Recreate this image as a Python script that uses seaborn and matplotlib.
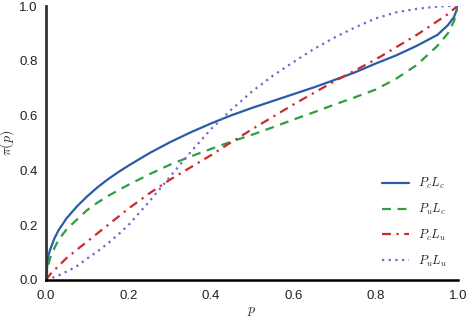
import numpy as np
import pandas as pd
import matplotlib
matplotlib.use("Agg")
import matplotlib.pyplot as plt
import seaborn as sns

# probability grid the curves were read at
p = [0, 0.005, 0.01, 0.02, 0.03, 0.05, 0.075, 0.1, 0.125, 0.15, 0.175, 0.2,
     0.25, 0.3, 0.35, 0.4, 0.45, 0.5, 0.55, 0.6, 0.65, 0.7, 0.75, 0.8,
     0.85, 0.9, 0.95, 0.975, 0.99, 1.0]

# pi(p) for each combination
pc_lc = [0, 0.085, 0.11, 0.15, 0.18, 0.225, 0.268, 0.305, 0.338, 0.367, 0.393, 0.417,
         0.462, 0.502, 0.538, 0.571, 0.601, 0.628, 0.653, 0.678, 0.703, 0.73, 0.758, 0.79,
         0.82, 0.855, 0.895, 0.93, 0.96, 1.0]
pu_lc = [0, 0.05, 0.08, 0.115, 0.145, 0.185, 0.22, 0.255, 0.282, 0.306, 0.327, 0.347,
         0.385, 0.42, 0.45, 0.478, 0.505, 0.53, 0.557, 0.585, 0.612, 0.64, 0.667, 0.695,
         0.735, 0.785, 0.855, 0.9, 0.945, 1.0]
pc_lu = [0, 0.01, 0.02, 0.035, 0.05, 0.08, 0.11, 0.14, 0.17, 0.2, 0.23, 0.26,
         0.315, 0.365, 0.41, 0.455, 0.503, 0.55, 0.595, 0.64, 0.683, 0.725, 0.765, 0.805,
         0.85, 0.895, 0.945, 0.97, 0.99, 1.0]
pu_lu = [0, 0.002, 0.005, 0.01, 0.016, 0.03, 0.05, 0.078, 0.104, 0.133, 0.165, 0.2,
         0.285, 0.375, 0.465, 0.55, 0.622, 0.688, 0.745, 0.795, 0.843, 0.885, 0.922, 0.955,
         0.977, 0.99, 0.998, 1.0, 1.0, 1.0]

labels = ["$P_cL_c$", "$P_uL_c$", "$P_cL_u$", "$P_uL_u$"]
colors = ["#2b5ba8", "#2e9e3e", "#cc2a2a", "#7466cc"]
styles = ["-", (0, (4, 3)), (0, (4, 2.5, 1, 2.5)), (0, (1, 2))]

sns.set_style("white")
plt.rcParams["mathtext.fontset"] = "cm"
plt.rcParams["font.family"] = ["Liberation Sans", "DejaVu Sans"]

fig = plt.figure(figsize=(4.67, 3.18), dpi=100)
ax = fig.add_axes([0.0985, 0.12, 0.8825, 0.861])

for ys, lab, col, ls in zip([pc_lc, pu_lc, pc_lu, pu_lu], labels, colors, styles):
    df = pd.DataFrame({"p": p, "pi": ys})
    sns.lineplot(data=df, x="p", y="pi", ax=ax, color=col, linestyle=ls,
                 linewidth=1.6, label=lab)

ax.set_xlim(0, 1)
ax.set_ylim(0, 1)
ax.set_xticks([0, 0.2, 0.4, 0.6, 0.8, 1.0])
ax.set_yticks([0, 0.2, 0.4, 0.6, 0.8, 1.0])
ax.tick_params(labelsize=9.5, length=0, colors="#222222")
ax.tick_params(axis="x", pad=7)
ax.tick_params(axis="y", pad=6)
ax.set_xlabel("$p$", fontsize=10, labelpad=2)
ax.set_ylabel(r"$\pi(p)$", fontsize=10, labelpad=2)
sns.despine(ax=ax)
ax.spines["left"].set_color("#333333")
ax.spines["left"].set_linewidth(2)
ax.spines["bottom"].set_color("black")
ax.spines["bottom"].set_linewidth(1.8)

ax.legend(loc="lower right", bbox_to_anchor=(1.0, 0.0), frameon=False,
          fontsize=9, handlelength=2.2, handletextpad=0.7, labelspacing=0.85)

fig.savefig("out.png", dpi=100)
